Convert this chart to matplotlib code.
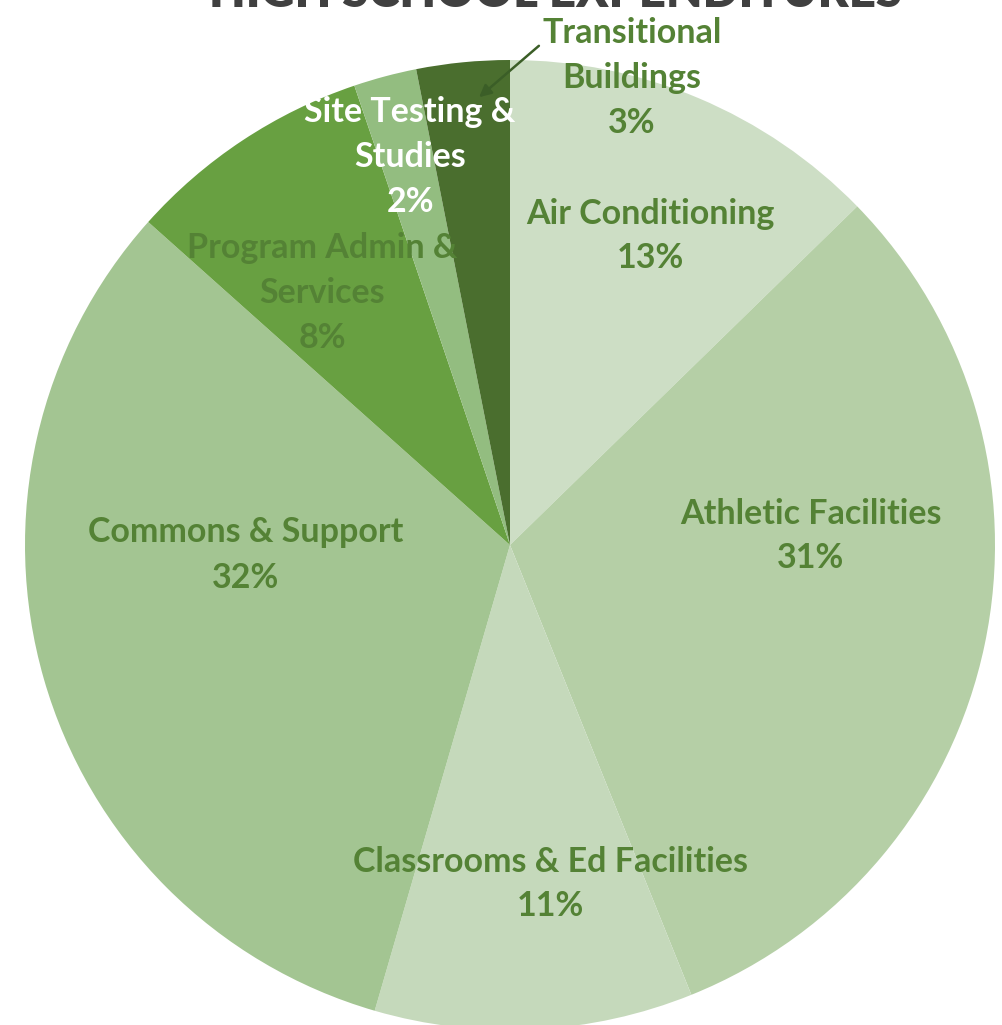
import matplotlib
matplotlib.use("Agg")
import matplotlib.pyplot as plt

categories = ["Air Conditioning", "Athletic Facilities", "Classrooms & Ed Facilities",
              "Commons & Support", "Program Admin & Services", "Site Testing & Studies",
              "Transitional Buildings"]
values = [12.7, 31.2, 10.6, 32.1, 8.2, 2.1, 3.1]
colors = ["#cddec5", "#b5cfa6", "#c5d9bb", "#a3c592", "#68a041", "#93bd80", "#4a6e2e"]
title = "HIGH SCHOOL EXPENDITURES"

plt.rcParams['font.family'] = ['Lato', 'DejaVu Sans']

W, H = 1002, 1025
cx, cy, R = 510, 545, 485
fig = plt.figure(figsize=(W / 100, H / 100), dpi=100)
ax = fig.add_axes([0, 0, 1, 1])

ax.pie(values, colors=colors, startangle=90, counterclock=False, radius=1.0,
       wedgeprops=dict(linewidth=0))

ax.set_xlim(-cx / R, (W - cx) / R)
ax.set_ylim(-(H - cy) / R, cy / R)
ax.set_aspect('equal')
ax.axis('off')

def px(x, y):
    return ((x - cx) / R, (cy - y) / R)

total = sum(values)
pct = [f"{round(v / total * 100)}%" for v in values]

label_text = [
    "Air Conditioning\n" + pct[0],
    "Athletic Facilities\n" + pct[1],
    "Classrooms & Ed Facilities\n" + pct[2],
    "Commons & Support\n" + pct[3],
    "Program Admin &\nServices\n" + pct[4],
    "Site Testing &\nStudies\n" + pct[5],
    "Transitional\nBuildings\n" + pct[6],
]
label_pos = [(650, 236), (811, 536), (550, 884), (246, 555), (322, 293), (410, 157), (632, 78)]
label_col = ["#548235"] * 5 + ["white", "#548235"]

for t, p, c in zip(label_text, label_pos, label_col):
    ax.text(*px(*p), t, ha='center', va='center', fontsize=24.5, fontweight='bold',
            color=c, linespacing=1.5)

ax.annotate("", xy=px(477, 99), xytext=px(541, 44),
            arrowprops=dict(arrowstyle='-|>', color='#3b5e27', lw=1.8, mutation_scale=18))

ax.text(*px(556, 7), title, ha='center', va='baseline', fontsize=34, fontweight='heavy',
        color='#404040')

fig.savefig("out.png", dpi=100)
